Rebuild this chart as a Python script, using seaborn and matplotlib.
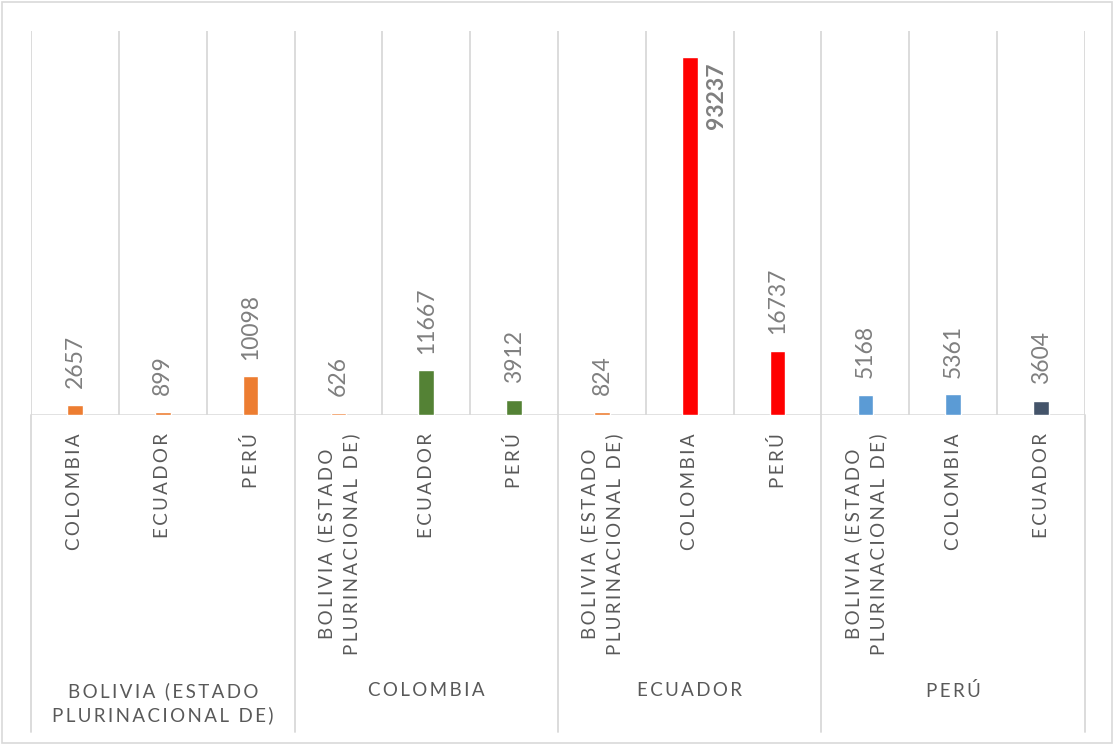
import textwrap
import numpy as np
import pandas as pd
import matplotlib
matplotlib.use("Agg")
import matplotlib.pyplot as plt
import matplotlib.transforms as mtransforms
from matplotlib.patches import Rectangle
import seaborn as sns

# Data: origin groups, destinations inside each group, and counts
groups = ['BOLIVIA (ESTADO PLURINACIONAL DE)', 'COLOMBIA', 'ECUADOR', 'PERÚ']
destinations = [
    ['COLOMBIA', 'ECUADOR', 'PERÚ'],
    ['BOLIVIA (ESTADO PLURINACIONAL DE)', 'ECUADOR', 'PERÚ'],
    ['BOLIVIA (ESTADO PLURINACIONAL DE)', 'COLOMBIA', 'PERÚ'],
    ['BOLIVIA (ESTADO PLURINACIONAL DE)', 'COLOMBIA', 'ECUADOR'],
]
values = [
    [2657, 899, 10098],
    [626, 11667, 3912],
    [824, 93237, 16737],
    [5168, 5361, 3604],
]
bar_colors = [
    ['#ED7D31', '#ED7D31', '#ED7D31'],
    ['#ED7D31', '#548235', '#548235'],
    ['#ED7D31', '#FF0000', '#FF0000'],
    ['#5B9BD5', '#5B9BD5', '#44546A'],
]

sns.set_theme(style='white')
plt.rcParams['font.family'] = ['Lato', 'DejaVu Sans']

GRID = '#D9D9D9'
VAL_COLOR = '#7F7F7F'
LAB_COLOR = '#595959'


def spaced(s):
    # Excel style letter spacing, line by line
    lines = textwrap.fill(s, 17).split('\n')
    return '\n'.join('\u2009'.join(line) for line in lines)


rows = []
for g, dests, vals, cols in zip(groups, destinations, values, bar_colors):
    for d, v, c in zip(dests, vals, cols):
        rows.append({'slot': g + '|' + d, 'group': g, 'dest': d, 'value': v, 'color': c})
df = pd.DataFrame(rows)
keys = list(df['slot'])

W, H = 1114, 745
fig = plt.figure(figsize=(W / 100, H / 100), dpi=100)
x0, x1, y_top, y_base = 31, 1085, 31, 415
ax = fig.add_axes([x0 / W, 1 - y_base / H, (x1 - x0) / W, (y_base - y_top) / H])

sns.barplot(data=df, x='slot', y='value', hue='slot', order=keys, hue_order=keys,
            palette=dict(zip(df['slot'], df['color'])), saturation=1,
            width=0.18, legend=False, ax=ax, zorder=3)

ax.set_xlim(-0.5, len(keys) - 0.5)
ax.set_ylim(0, 100000)
ax.set_yticks([])
ax.set_xlabel('')
ax.set_ylabel('')
for sp in ax.spines.values():
    sp.set_visible(False)

# vertical gridlines between categories and baseline
for b in np.arange(-0.5, len(keys), 1.0):
    ax.axvline(b, color=GRID, lw=1.3, zorder=1)
ax.axhline(0, color=GRID, lw=1.8, zorder=2)

# value labels
vmax = df['value'].max()
for i, v in enumerate(df['value']):
    if v == vmax:
        ax.annotate(str(v), xy=(i, v), xytext=(19, -4), textcoords='offset points',
                    rotation=90, ha='center', va='top', fontsize=16.5,
                    fontweight='bold', color=VAL_COLOR)
    else:
        ax.annotate(str(v), xy=(i, v), xytext=(0, 12), textcoords='offset points',
                    rotation=90, ha='center', va='bottom', fontsize=16.5,
                    color=VAL_COLOR)

# inner category labels
ax.set_xticks(range(len(keys)))
ax.set_xticklabels([spaced(d) for d in df['dest']], rotation=90, ha='center',
                   va='top', multialignment='center', fontsize=13.5,
                   color=LAB_COLOR, linespacing=1.45)
ax.tick_params(axis='x', length=0, pad=13)

# outer group labels and separators
trans = mtransforms.blended_transform_factory(ax.transData, ax.transAxes)
y_sep = (y_base - 732) / (y_base - y_top)
n_per = [len(d) for d in destinations]
edges = np.concatenate([[0], np.cumsum(n_per)]) - 0.5
for e in edges:
    ax.plot([e, e], [0, y_sep], transform=trans, color=GRID, lw=1.3, clip_on=False)
y_grp = (y_base - 682) / (y_base - y_top)
for g, a, b in zip(groups, edges[:-1], edges[1:]):
    ax.text((a + b) / 2, y_grp, spaced(g), transform=trans, ha='center', va='top',
            multialignment='center', fontsize=13.5, color=LAB_COLOR, linespacing=1.45)

# chart border
fig.add_artist(Rectangle((2 / W, 2 / H), (W - 4) / W, (H - 4) / H, transform=fig.transFigure,
                         fill=False, ec=GRID, lw=1.2))

fig.savefig('out.png', dpi=100)
